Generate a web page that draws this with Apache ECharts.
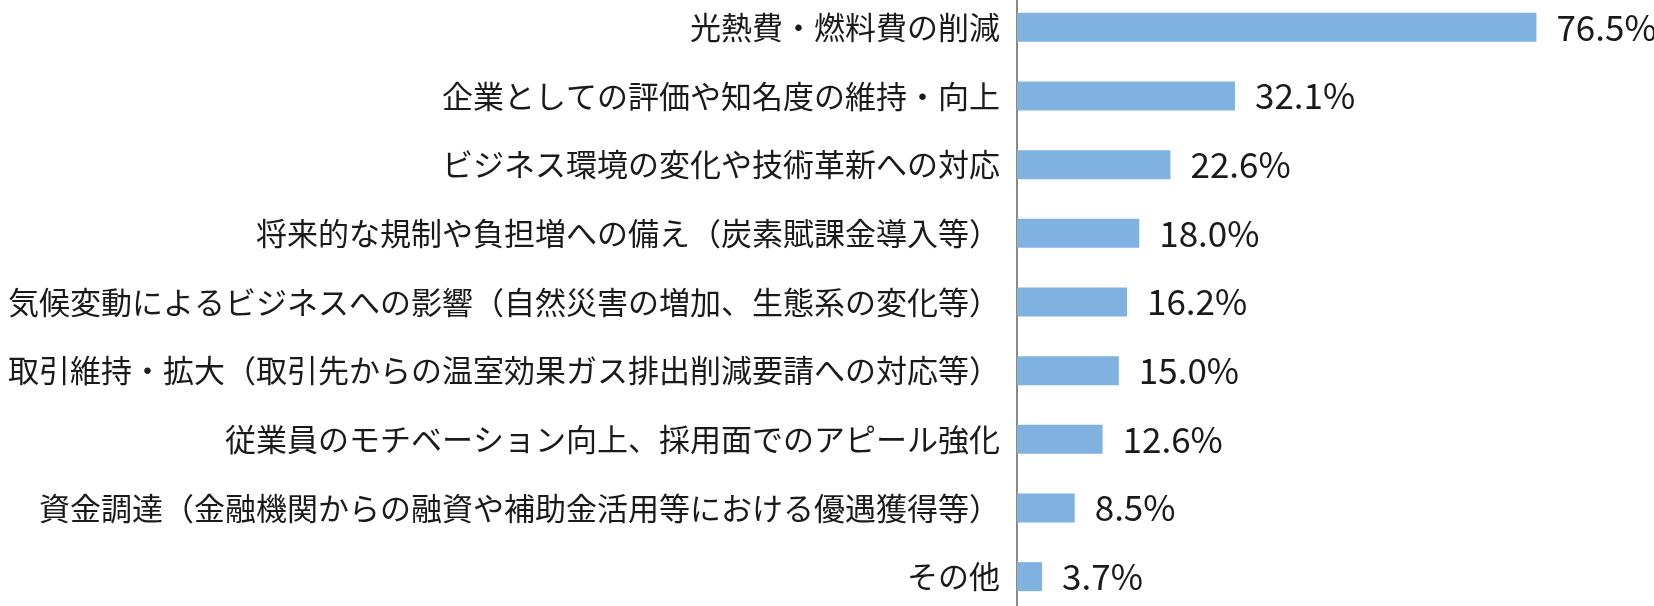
<!DOCTYPE html>
<html>
<head>
<meta charset="utf-8">
<script src="https://cdn.jsdelivr.net/npm/echarts@6/dist/echarts.min.js"></script>
<style>
  html, body { margin: 0; padding: 0; background: #fff; }
  #main { width: 1654px; height: 606px; }
</style>
</head>
<body>
<div id="main"></div>
<script>
// 項目（上から順）
var categories = [
  '光熱費・燃料費の削減',
  '企業としての評価や知名度の維持・向上',
  'ビジネス環境の変化や技術革新への対応',
  '将来的な規制や負担増への備え（炭素賦課金導入等）',
  '気候変動によるビジネスへの影響（自然災害の増加、生態系の変化等）',
  '取引維持・拡大（取引先からの温室効果ガス排出削減要請への対応等）',
  '従業員のモチベーション向上、採用面でのアピール強化',
  '資金調達（金融機関からの融資や補助金活用等における優遇獲得等）',
  'その他'
]
// 割合 (%)
var values = [76.5, 32.1, 22.6, 18.0, 16.2, 15.0, 12.6, 8.5, 3.7]

var chart = echarts.init(document.getElementById('main'))
var option = {
  animation: false,
  grid: {
    left: 1017,
    right: -42,
    top: -7,
    bottom: -5,
    outerBoundsMode: 'none'
  },
  xAxis: {
    type: 'value',
    min: 0,
    max: 100,
    show: false
  },
  yAxis: {
    type: 'category',
    data: categories,
    inverse: true,
    axisTick: { show: false },
    axisLine: {
      show: true,
      lineStyle: { color: '#8a8a8a', width: 2 }
    },
    axisLabel: {
      margin: 17,
      color: '#1a1a1a',
      fontSize: 31,
      fontFamily: 'Noto Sans CJK JP'
    }
  },
  series: [
    {
      type: 'bar',
      data: values,
      barWidth: 29,
      itemStyle: { color: '#7fb2e0' },
      label: {
        show: true,
        position: 'right',
        distance: 20,
        color: '#1a1a1a',
        fontSize: 35,
        fontFamily: 'Noto Sans CJK JP',
        formatter: function (p) {
          return p.value.toFixed(1) + '%'
        }
      }
    }
  ]
}
chart.setOption(option)
</script>
</body>
</html>
